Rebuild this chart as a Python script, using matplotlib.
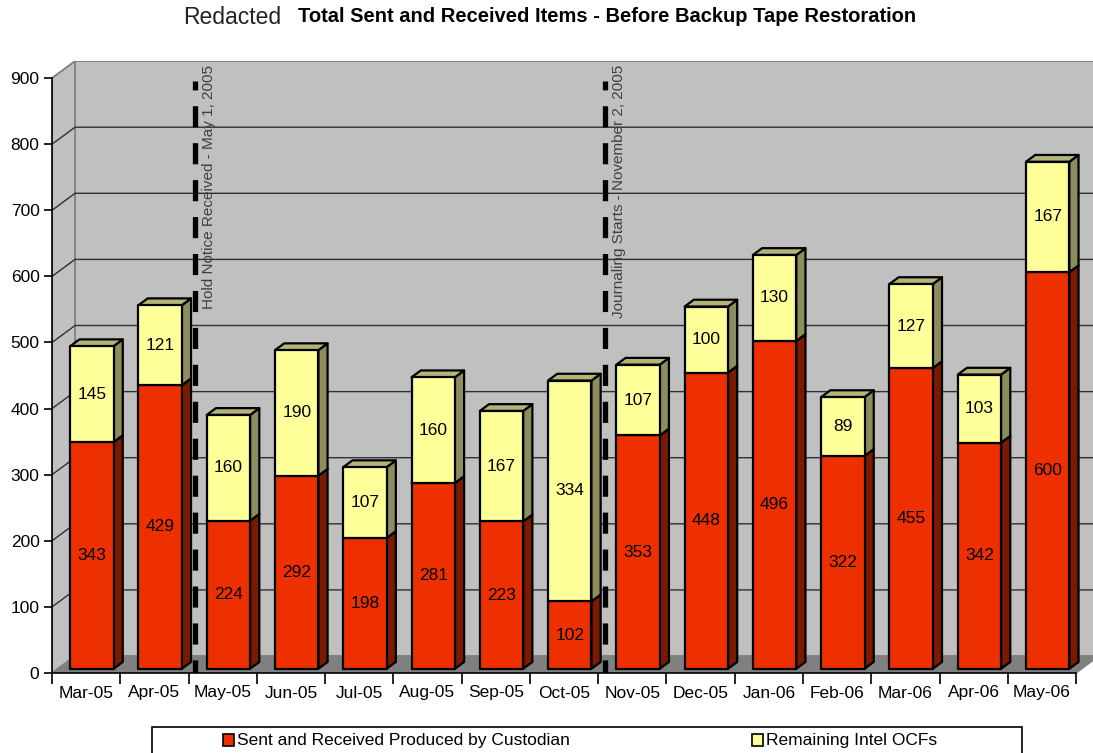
import numpy as np
import matplotlib.pyplot as plt
from matplotlib.patches import Polygon, Rectangle

plt.rcParams['font.family'] = ['Liberation Sans', 'DejaVu Sans']

# ---------------------- datos ----------------------
meses = ['Mar-05', 'Apr-05', 'May-05', 'Jun-05', 'Jul-05', 'Aug-05', 'Sep-05', 'Oct-05',
         'Nov-05', 'Dec-05', 'Jan-06', 'Feb-06', 'Mar-06', 'Apr-06', 'May-06']
custodio = [343, 429, 224, 292, 198, 281, 223, 102, 353, 448, 496, 322, 455, 342, 600]
restantes = [145, 121, 160, 190, 107, 160, 167, 334, 107, 100, 130, 89, 127, 103, 167]
eventos_x = [2.1, 8.1]
eventos_txt = ['Hold Notice Received - May 1, 2005', 'Journaling Starts - November 2, 2005']
y_ticks = [0, 100, 200, 300, 400, 500, 600, 700, 800, 900]

# profundidad falsa del 3D (en unidades de datos)
DX = 0.337
DY = 25.7
YMAX = 900
n = len(meses)

rojo, rojo_lado = '#EE3000', '#7A1A00'
amar, amar_lado, amar_top = '#FFFF99', '#8C8C5C', '#B4B47A'


def caja(ax, x0, w, y0, y1, f1, f2, c_front, c_side, c_top):
    a1, b1 = f1 * DX, f1 * DY
    a2, b2 = f2 * DX, f2 * DY
    front = [(x0 + a1, y0 + b1), (x0 + w + a1, y0 + b1), (x0 + w + a1, y1 + b1), (x0 + a1, y1 + b1)]
    side = [(x0 + w + a1, y0 + b1), (x0 + w + a2, y0 + b2), (x0 + w + a2, y1 + b2), (x0 + w + a1, y1 + b1)]
    top = [(x0 + a1, y1 + b1), (x0 + w + a1, y1 + b1), (x0 + w + a2, y1 + b2), (x0 + a2, y1 + b2)]
    for pts, c in [(side, c_side), (top, c_top), (front, c_front)]:
        ax.add_patch(Polygon(pts, closed=True, fc=c, ec='black', lw=1.6, zorder=5, joinstyle='round'))


fig = plt.figure(figsize=(10.93, 7.53), dpi=100)
ax = fig.add_axes([52 / 1093, 80 / 753, (n + DX) * 68.27 / 1093, (YMAX + DY) * 0.661 / 753])
ax.set_xlim(0, n + DX)
ax.set_ylim(0, YMAX + DY)

# paredes y piso
ax.add_patch(Rectangle((DX, DY), n, YMAX, fc='#C0C0C0', ec='#808080', lw=1.2, zorder=0))
ax.add_patch(Polygon([(0, 0), (DX, DY), (DX, YMAX + DY), (0, YMAX)], fc='#C0C0C0', ec='#808080', lw=1.2, zorder=0))
ax.add_patch(Polygon([(0, 0), (n, 0), (n + DX, DY), (DX, DY)], fc='#808080', ec='#808080', lw=1, zorder=1))
for v in y_ticks[1:]:
    c = '#808080' if v == YMAX else '#303030'
    ax.plot([0, DX, n + DX], [v, v + DY, v + DY], color=c, lw=1, zorder=0.5)

# lineas de eventos
for ex, txt in zip(eventos_x, eventos_txt):
    ax.plot([ex, ex], [-12, 895], color='black', lw=3.8, dashes=(4, 3), zorder=3, solid_capstyle='butt')
    ax.text(ex + 0.205, 920, txt, rotation=90, ha='center', va='top', fontsize=11, color='#404040', zorder=3)

# barras
w = 0.635
f1, f2 = 0.25, 0.65
for i in range(n):
    x0 = i + 0.5 - w / 2
    r, y = custodio[i], restantes[i]
    caja(ax, x0, w, 0, r, f1, f2, rojo, rojo_lado, rojo_lado)
    caja(ax, x0, w, r, r + y, f1, f2, amar, amar_lado, amar_top)
    cx = x0 + w / 2 + f1 * DX
    ax.text(cx, r / 2 + f1 * DY, str(r), ha='center', va='center', fontsize=12.5, zorder=6)
    ax.text(cx, r + y / 2 + f1 * DY, str(y), ha='center', va='center', fontsize=12.5, zorder=6)

# ejes
for s in ['top', 'right']:
    ax.spines[s].set_visible(False)
ax.spines['left'].set_bounds(0, YMAX)
ax.spines['bottom'].set_bounds(0, n)
ax.spines['left'].set_linewidth(1.2)
ax.spines['bottom'].set_linewidth(1.2)
ax.spines['left'].set_zorder(7)
ax.spines['bottom'].set_zorder(7)
ax.set_yticks(y_ticks)
ax.set_yticklabels([str(v) for v in y_ticks], fontsize=12.5)
ax.tick_params(axis='y', length=6, width=1.2, pad=3)
ax.set_xticks(np.arange(n + 1))
ax.set_xticklabels([''] * (n + 1))
ax.set_xticks(np.arange(n) + 0.5, minor=True)
ax.set_xticklabels(meses, minor=True, fontsize=12.5)
ax.tick_params(axis='x', which='major', length=8, width=1.2)
ax.tick_params(axis='x', which='minor', length=0, pad=9)

# titulo
fig.text(281 / 1093, 1 - 17 / 753, 'Redacted', ha='right', va='center', fontsize=16.5, color='#222222')
fig.text(298 / 1093, 1 - 17 / 753, 'Total Sent and Received Items - Before Backup Tape Restoration',
         ha='left', va='center', fontsize=14.5, fontweight='bold')

# leyenda
fig.patches.append(Rectangle((152 / 1093, -0.02), 870 / 1093, (753 - 727) / 753 + 0.02,
                             transform=fig.transFigure, fc='white', ec='black', lw=1.2))
for xm, c, txt in [(223, rojo, 'Sent and Received Produced by Custodian'), (752, amar, 'Remaining Intel OCFs')]:
    fig.patches.append(Rectangle((xm / 1093, 1 - 746 / 753), 11 / 1093, 12 / 753,
                                 transform=fig.transFigure, fc=c, ec='black', lw=1.2))
    fig.text((xm + 14) / 1093, 1 - 740 / 753, txt, ha='left', va='center', fontsize=12.5)

fig.savefig('out.png', dpi=100)
